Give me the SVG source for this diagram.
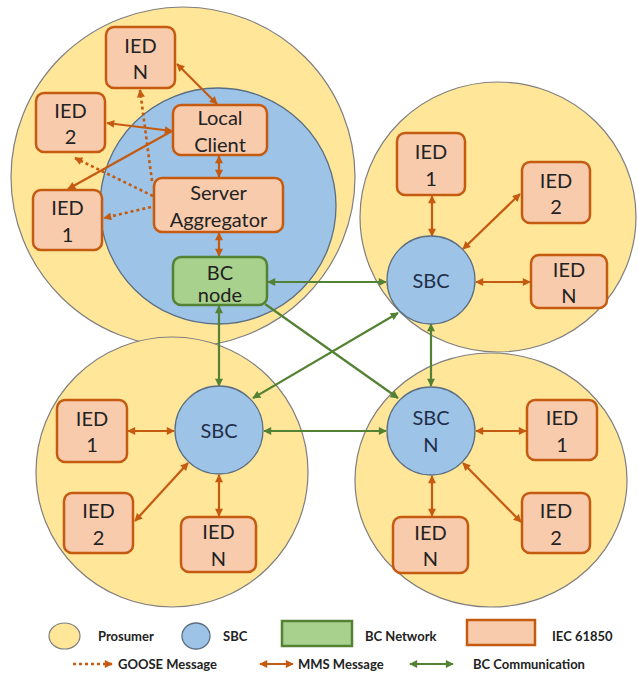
<svg xmlns="http://www.w3.org/2000/svg" width="638" height="675" viewBox="0 0 638 675">
<style>
.pros{fill:#FFE699;stroke:#7f7f7f;stroke-width:1.2}
.sbc{fill:#9DC3E6;stroke:#5a6f82;stroke-width:1.3}
.ied{fill:#F8CBAD;stroke:#C55A11;stroke-width:2.5}
.bcn{fill:#A9D18E;stroke:#548235;stroke-width:2.5}
.t{font-family:Lato,"Open Sans","Liberation Sans",sans-serif;font-size:20px;fill:#222;text-anchor:middle}
.ts{fill:#1F2F4A}
.lg{font-family:Lato,"Open Sans","Liberation Sans",sans-serif;font-size:13px;font-weight:bold;fill:#222}
.mms{stroke:#C55A11;stroke-width:2.2;fill:none}
.goose{stroke:#C55A11;stroke-width:2.6;fill:none;stroke-dasharray:3 3}
.bc{stroke:#548235;stroke-width:2.2;fill:none}
</style>
<defs>
<marker id="ao" viewBox="0 0 10 10" refX="9" refY="5" markerWidth="9" markerHeight="8" markerUnits="userSpaceOnUse" orient="auto-start-reverse"><path d="M0,0 L10,5 L0,10 z" fill="#C55A11"/></marker>
<marker id="ag" viewBox="0 0 10 10" refX="9" refY="5" markerWidth="9" markerHeight="8" markerUnits="userSpaceOnUse" orient="auto-start-reverse"><path d="M0,0 L10,5 L0,10 z" fill="#548235"/></marker>
</defs>

<g id="prosumer-tl"><ellipse class="pros" cx="183" cy="177" rx="172" ry="170"/><circle class="sbc" cx="218" cy="206" r="118"/></g>
<g id="prosumer-tr"><ellipse class="pros" cx="498" cy="217" rx="138" ry="135"/></g>
<g id="prosumer-bl"><ellipse class="pros" cx="172" cy="472" rx="136" ry="135"/></g>
<g id="prosumer-br"><ellipse class="pros" cx="491" cy="480" rx="136" ry="127"/></g>

<g id="connectors">
<line class="mms" x1="177" y1="64" x2="217" y2="104" marker-start="url(#ao)" marker-end="url(#ao)"/>
<line class="mms" x1="107" y1="123" x2="172" y2="131" marker-start="url(#ao)" marker-end="url(#ao)"/>
<line class="mms" x1="172" y1="131" x2="68" y2="189" marker-end="url(#ao)"/>
<line class="mms" x1="219" y1="156" x2="219" y2="177" marker-start="url(#ao)" marker-end="url(#ao)"/>
<line class="mms" x1="219" y1="233" x2="219" y2="256" marker-start="url(#ao)" marker-end="url(#ao)"/>
<line class="goose" x1="152" y1="181" x2="140" y2="90" marker-end="url(#ao)"/>
<line class="goose" x1="153" y1="196" x2="75" y2="158" marker-end="url(#ao)"/>
<line class="goose" x1="151" y1="207" x2="104" y2="218" marker-end="url(#ao)"/>
<line class="mms" x1="432" y1="196" x2="432" y2="236" marker-start="url(#ao)" marker-end="url(#ao)"/>
<line class="mms" x1="463" y1="249" x2="520" y2="194" marker-start="url(#ao)" marker-end="url(#ao)"/>
<line class="mms" x1="476" y1="282" x2="530" y2="282" marker-start="url(#ao)" marker-end="url(#ao)"/>
<line class="mms" x1="128" y1="431" x2="174" y2="431" marker-start="url(#ao)" marker-end="url(#ao)"/>
<line class="mms" x1="188" y1="463" x2="135" y2="521" marker-start="url(#ao)" marker-end="url(#ao)"/>
<line class="mms" x1="219" y1="475" x2="219" y2="516" marker-start="url(#ao)" marker-end="url(#ao)"/>
<line class="mms" x1="476" y1="431" x2="526" y2="431" marker-start="url(#ao)" marker-end="url(#ao)"/>
<line class="mms" x1="463" y1="463" x2="521" y2="522" marker-start="url(#ao)" marker-end="url(#ao)"/>
<line class="mms" x1="432" y1="476" x2="432" y2="516" marker-start="url(#ao)" marker-end="url(#ao)"/>
<line class="bc" x1="268" y1="282" x2="386" y2="282" marker-start="url(#ag)" marker-end="url(#ag)"/>
<line class="bc" x1="219" y1="306" x2="219" y2="386" marker-start="url(#ag)" marker-end="url(#ag)"/>
<line class="bc" x1="265" y1="304" x2="398" y2="398" marker-end="url(#ag)"/>
<line class="bc" x1="398" y1="313" x2="253" y2="398" marker-start="url(#ag)" marker-end="url(#ag)"/>
<line class="bc" x1="431" y1="324" x2="431" y2="386" marker-start="url(#ag)" marker-end="url(#ag)"/>
<line class="bc" x1="264" y1="431" x2="386" y2="431" marker-start="url(#ag)" marker-end="url(#ag)"/>
</g>

<g id="tl-ied-n"><rect class="ied" x="106" y="27" width="69" height="61" rx="8"/><text class="t" x="140.5" y="53">IED</text><text class="t" x="140.5" y="79">N</text></g>
<g id="tl-ied-2"><rect class="ied" x="36" y="93" width="69" height="59" rx="8"/><text class="t" x="70.5" y="118">IED</text><text class="t" x="70.5" y="144">2</text></g>
<g id="tl-ied-1"><rect class="ied" x="33" y="190" width="69" height="60" rx="8"/><text class="t" x="67.5" y="215">IED</text><text class="t" x="67.5" y="242">1</text></g>
<g id="local-client"><rect class="ied" x="173" y="105" width="94" height="50" rx="8"/><text class="t" x="220" y="125">Local</text><text class="t" x="220" y="152">Client</text></g>
<g id="server-aggregator"><rect class="ied" x="154" y="178" width="129" height="54" rx="8"/><text class="t" x="218.5" y="200">Server</text><text class="t" x="218.5" y="227">Aggregator</text></g>
<g id="bc-node"><rect class="bcn" x="173" y="257" width="94" height="48" rx="8"/><text class="t" x="220" y="280">BC</text><text class="t" x="220" y="302">node</text></g>

<g id="tr-sbc"><circle class="sbc" cx="431" cy="280" r="44"/><text class="t ts" x="431" y="288">SBC</text></g>
<g id="tr-ied-1"><rect class="ied" x="397" y="133" width="68" height="62" rx="8"/><text class="t" x="431" y="159">IED</text><text class="t" x="431" y="186">1</text></g>
<g id="tr-ied-2"><rect class="ied" x="522" y="162" width="68" height="61" rx="8"/><text class="t" x="556" y="188">IED</text><text class="t" x="556" y="214">2</text></g>
<g id="tr-ied-n"><rect class="ied" x="531" y="255" width="76" height="53" rx="8"/><text class="t" x="569" y="277">IED</text><text class="t" x="569" y="303">N</text></g>

<g id="bl-sbc"><circle class="sbc" cx="219" cy="430" r="44"/><text class="t ts" x="219" y="438">SBC</text></g>
<g id="bl-ied-1"><rect class="ied" x="57" y="400" width="70" height="62" rx="8"/><text class="t" x="92" y="426">IED</text><text class="t" x="92" y="452">1</text></g>
<g id="bl-ied-2"><rect class="ied" x="64" y="493" width="69" height="60" rx="8"/><text class="t" x="98.5" y="518">IED</text><text class="t" x="98.5" y="545">2</text></g>
<g id="bl-ied-n"><rect class="ied" x="181" y="517" width="75" height="55" rx="8"/><text class="t" x="218.5" y="539">IED</text><text class="t" x="218.5" y="566">N</text></g>

<g id="br-sbc-n"><circle class="sbc" cx="431" cy="431" r="44"/><text class="t ts" x="431" y="425">SBC</text><text class="t ts" x="431" y="452">N</text></g>
<g id="br-ied-1"><rect class="ied" x="527" y="400" width="70" height="60" rx="8"/><text class="t" x="562" y="425">IED</text><text class="t" x="562" y="452">1</text></g>
<g id="br-ied-2"><rect class="ied" x="522" y="493" width="68" height="60" rx="8"/><text class="t" x="556" y="518">IED</text><text class="t" x="556" y="545">2</text></g>
<g id="br-ied-n"><rect class="ied" x="393" y="517" width="75" height="56" rx="8"/><text class="t" x="430.5" y="540">IED</text><text class="t" x="430.5" y="566">N</text></g>

<g id="legend">
<ellipse class="pros" cx="64.5" cy="636" rx="15.5" ry="13"/>
<text class="lg" x="98" y="641">Prosumer</text>
<ellipse class="sbc" cx="196" cy="636" rx="14" ry="13"/>
<text class="lg" x="223" y="641">SBC</text>
<rect class="bcn" x="282" y="621" width="70" height="25" stroke-width="1.5"/>
<text class="lg" x="365" y="641">BC Network</text>
<rect class="ied" x="467" y="620" width="68" height="25" stroke-width="3"/>
<text class="lg" x="552" y="641">IEC 61850</text>
<line class="goose" x1="73" y1="664" x2="112" y2="664" marker-end="url(#ao)"/>
<text class="lg" x="118" y="669">GOOSE Message</text>
<line class="mms" x1="260" y1="664" x2="293" y2="664" marker-start="url(#ao)" marker-end="url(#ao)"/>
<text class="lg" x="298" y="669">MMS Message</text>
<line class="bc" x1="410" y1="664" x2="453" y2="664" marker-start="url(#ag)" marker-end="url(#ag)"/>
<text class="lg" x="473" y="669">BC Communication</text>
</g>
</svg>
